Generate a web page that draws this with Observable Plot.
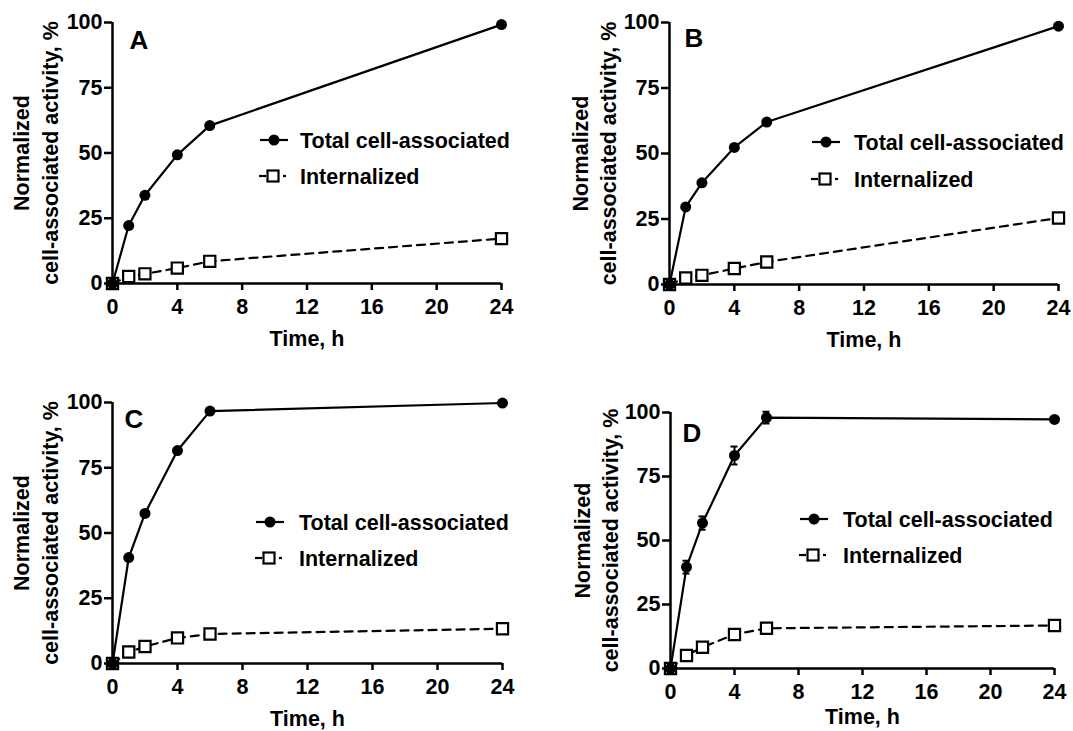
<!DOCTYPE html>
<html><head><meta charset="utf-8">
<script src="https://cdn.jsdelivr.net/npm/d3@7"></script>
<script src="https://cdn.jsdelivr.net/npm/@observablehq/plot@0.6"></script>
<style>
body{margin:0;background:#fff;}
#wrap{position:relative;width:1073px;height:731px;overflow:hidden;background:#fff;font-family:"Liberation Sans",Arial,sans-serif;}
.panel{position:absolute;}
#legend{position:absolute;left:0;top:0;pointer-events:none;}
</style></head><body><div id="wrap"></div>
<script>
// ---- data ----
const times = [0, 1, 2, 4, 6, 24];
const xTicks = [0, 4, 8, 12, 16, 20, 24];
const yTicks = [0, 25, 50, 75, 100];
const seriesNames = ["Total cell-associated", "Internalized"];
const panelLetters = ["A", "B", "C", "D"];
const totalA = [0, 22.2, 33.8, 49.3, 60.5, 99.2];
const internA = [0, 2.7, 3.7, 5.9, 8.5, 17.2];
const totalB = [0, 29.6, 38.8, 52.3, 62.0, 98.6];
const internB = [0, 2.5, 3.5, 6.1, 8.6, 25.4];
const totalC = [0, 40.6, 57.5, 81.6, 96.7, 99.8];
const internC = [0, 4.4, 6.5, 9.8, 11.3, 13.3];
const totalD = [0, 39.6, 56.8, 83.2, 98.0, 97.3];
const internD = [0, 5.1, 8.3, 13.3, 15.7, 16.8];
const errTotalD = [0, 2.5, 2.6, 3.5, 2.3, 0];
const yTitle1 = "Normalized";
const yTitle2 = "cell-associated activity, %";
const xTitle = "Time, h";

// ---- layout ----
const FONT = '"Liberation Sans", Arial, sans-serif';
const panels = [
  {left: 0,   top: 0,   width: 536, height: 365, mL: 112, mR: 35, mT: 22, mB: 82, xtDy: 47,
   letterDx: 17, letterDy: 8, t1: -90, t2: -61, leg: {cx: 274, y1: 140, y2: 176, tx: 300}},
  {left: 536, top: 0,   width: 537, height: 365, mL: 133, mR: 15, mT: 22, mB: 81, xtDy: 47,
   letterDx: 15, letterDy: 6, t1: -88, t2: -60, leg: {cx: 826, y1: 142, y2: 179, tx: 854}},
  {left: 0,   top: 366, width: 536, height: 365, mL: 112, mR: 34, mT: 36, mB: 68, xtDy: 47,
   letterDx: 12, letterDy: 7, t1: -90, t2: -61, leg: {cx: 270, y1: 522, y2: 558, tx: 299}},
  {left: 536, top: 366, width: 537, height: 365, mL: 134, mR: 19, mT: 46, mB: 63, xtDy: 40,
   letterDx: 12, letterDy: 11, t1: -87, t2: -59, leg: {cx: 814, y1: 519, y2: 555, tx: 843}}
];
const dataSets = [
  [totalA, internA, null],
  [totalB, internB, null],
  [totalC, internC, null],
  [totalD, internD, errTotalD]
];

const wrap = document.getElementById("wrap");
const txt = {fontFamily: FONT, fontWeight: "bold", fill: "black"};
const FS = 21.5;

panels.forEach((p, k) => {
  const [total, intern, err] = dataSets[k];
  const rows = times.map((t, i) => ({t, total: total[i], intern: intern[i], err: err ? err[i] : 0}));
  const marks = [
    Plot.line(rows, {x: "t", y: "intern", stroke: "black", strokeWidth: 2.2, strokeDasharray: "8,6"}),
    Plot.line(rows, {x: "t", y: "total", stroke: "black", strokeWidth: 2.2}),
  ];
  if (err) {
    const eb = rows.filter(d => d.err > 0);
    marks.push(
      Plot.ruleX(eb, {x: "t", y1: d => d.total - d.err, y2: d => d.total + d.err, stroke: "black", strokeWidth: 2}),
      Plot.ruleY(eb, {y: d => d.total + d.err, x1: d => d.t - 0.22, x2: d => d.t + 0.22, stroke: "black", strokeWidth: 2}),
      Plot.ruleY(eb, {y: d => d.total - d.err, x1: d => d.t - 0.22, x2: d => d.t + 0.22, stroke: "black", strokeWidth: 2})
    );
  }
  marks.push(
    Plot.ruleX([0], {y1: 0, y2: 100, stroke: "black", strokeWidth: 2.5}),
    Plot.ruleY([0], {x1: 0, x2: 24, stroke: "black", strokeWidth: 2.5}),
    Plot.axisX(xTicks, {tickSize: 7, tickPadding: 8, strokeWidth: 2.5, label: null, tickFormat: d => String(d), fontSize: FS, ...txt}),
    Plot.axisY(yTicks, {tickSize: 8, tickPadding: 2, strokeWidth: 2.5, label: null, tickFormat: d => String(d), fontSize: FS, ...txt}),
    Plot.dot(rows, {x: "t", y: "intern", symbol: "square", r: 6.3, fill: "white", stroke: "black", strokeWidth: 2.2}),
    Plot.dot(rows, {x: "t", y: "total", symbol: "circle", r: 5.5, fill: "black"}),
    Plot.text([panelLetters[k]], {text: d => d, frameAnchor: "top-left", textAnchor: "start", lineAnchor: "top", dx: p.letterDx, dy: p.letterDy, fontSize: 26, ...txt}),
    Plot.text([xTitle], {text: d => d, frameAnchor: "bottom", textAnchor: "middle", lineAnchor: "top", dy: p.xtDy, fontSize: FS, ...txt}),
    Plot.text([yTitle1], {text: d => d, frameAnchor: "left", textAnchor: "middle", rotate: -90, lineAnchor: "middle", dx: p.t1, fontSize: FS, ...txt}),
    Plot.text([yTitle2], {text: d => d, frameAnchor: "left", textAnchor: "middle", rotate: -90, lineAnchor: "middle", dx: p.t2, fontSize: FS, ...txt})
  );
  const chart = Plot.plot({
    width: p.width, height: p.height,
    marginLeft: p.mL, marginRight: p.mR, marginTop: p.mT, marginBottom: p.mB,
    x: {type: "linear", domain: [0, 24]},
    y: {type: "linear", domain: [0, 100]},
    style: {fontFamily: FONT, fontWeight: "bold", fontSize: FS + "px", color: "black", background: "transparent", overflow: "visible"},
    marks
  });
  const div = document.createElement("div");
  div.className = "panel";
  div.style.left = p.left + "px";
  div.style.top = p.top + "px";
  div.appendChild(chart);
  wrap.appendChild(div);
});

// ---- legends ----
const svg = d3.select(wrap).append("svg").attr("id", "legend").attr("width", 1073).attr("height", 731);
panels.forEach(p => {
  const L = p.leg;
  const g = svg.append("g");
  g.append("line").attr("x1", L.cx - 14).attr("x2", L.cx + 14).attr("y1", L.y1).attr("y2", L.y1)
    .attr("stroke", "black").attr("stroke-width", 2.2);
  g.append("circle").attr("cx", L.cx).attr("cy", L.y1).attr("r", 5.5).attr("fill", "black");
  g.append("line").attr("x1", L.cx - 15).attr("x2", L.cx - 8).attr("y1", L.y2).attr("y2", L.y2)
    .attr("stroke", "black").attr("stroke-width", 2.2);
  g.append("rect").attr("x", L.cx - 6.5).attr("y", L.y2 - 5.5).attr("width", 11).attr("height", 11)
    .attr("fill", "white").attr("stroke", "black").attr("stroke-width", 2.2);
  g.append("line").attr("x1", L.cx + 9).attr("x2", L.cx + 12).attr("y1", L.y2).attr("y2", L.y2)
    .attr("stroke", "black").attr("stroke-width", 2.2);
  [[seriesNames[0], L.y1], [seriesNames[1], L.y2]].forEach(([s, y]) => {
    g.append("text").attr("x", L.tx).attr("y", y + 7.7).text(s)
      .attr("font-family", FONT).attr("font-weight", "bold").attr("font-size", FS).attr("fill", "black");
  });
});
</script>
</body></html>
